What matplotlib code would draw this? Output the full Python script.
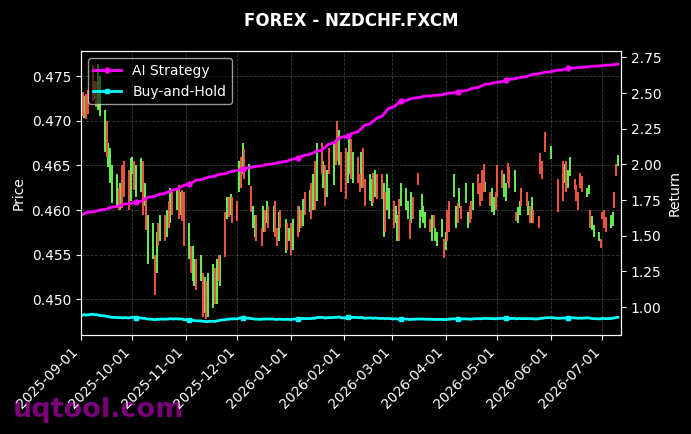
import numpy as np
import pandas as pd
import matplotlib
matplotlib.use("Agg")
import matplotlib.pyplot as plt
import matplotlib.dates as mdates

#%% data, one row per week, Mon..Fri
nan = np.nan
dates = pd.bdate_range("2025-09-01", "2026-07-10")

open_px = [
    0.4700, 0.4732, 0.4703, 0.4730, 0.4735,
    0.4762, 0.4725, 0.4745, 0.4712, 0.4705,
    0.4665, 0.4700, 0.4648, 0.4630, 0.4608,
    0.4605, 0.4625, 0.4600, 0.4650, 0.4655,
    0.4645, 0.4610, 0.4640, 0.4655, 0.4615,
    0.4620, 0.4655, 0.4605, 0.4615, 0.4540,
    0.4545, 0.4550, 0.4530, 0.4585, 0.4565,
    0.4595, 0.4570, 0.4610, 0.4585, 0.4620,
    0.4600, 0.4628, 0.4595, 0.4622, 0.4620,
    0.4545, 0.4560, 0.4520, 0.4515, 0.4545,
    0.4520, 0.4530, 0.4485, 0.4520, 0.4480,
    0.4490, 0.4535, 0.4495, 0.4550, 0.4515,
    0.4598, 0.4590, 0.4615, 0.4595, 0.4615,
    0.4610, 0.4620, 0.4660, 0.4640, 0.4668,
    0.4628, 0.4627, 0.4580, 0.4570, 0.4595,
    0.4580, 0.4575, 0.4600, 0.4585, 0.4605,
    0.4575, 0.4610, 0.4580, 0.4565, 0.4600,
    0.4552, 0.4585, 0.4565, 0.4585, 0.4555,
    0.4605, 0.4575, 0.4600, 0.4582, 0.4620,
    0.4598, 0.4630, 0.4600, 0.4655, 0.4610,
    0.4675, 0.4625, 0.4650, 0.4615, 0.4670,
    0.4628, 0.4680, 0.4700, 0.4650, 0.4665,
    0.4670, 0.4630, 0.4640, 0.4680, 0.4630,
    0.4660, 0.4640, 0.4625, 0.4670, 0.4635,
    0.4610, 0.4605, 0.4642, 0.4615, 0.4640,
    0.4640, 0.4570, 0.4620, 0.4600, 0.4590,
    0.4610, 0.4585, 0.4565, 0.4612, 0.4605,
    0.4600, 0.4590, 0.4590, 0.4585, 0.4615,
    0.4642, 0.4580, 0.4592, 0.4585, 0.4580,
    0.4590, 0.4565, 0.4595, 0.4565, 0.4560,
    0.4570, 0.4568, 0.4555, 0.4600, 0.4610,
    0.4615, 0.4580, 0.4608, 0.4602, 0.4605,
    0.4608, 0.4580, 0.4605, 0.4610, 0.4600,
    0.4640, 0.4630, 0.4645, 0.4652, 0.4620,
    0.4620, 0.4598, 0.4595, 0.4620, 0.4650,
    0.4645, 0.4615, 0.4610, 0.4653, 0.4648,
    0.4620, 0.4598, 0.4585, 0.4595, 0.4625,
    0.4620, 0.4595, 0.4605, 0.4585, 0.4600,
    0.4593, 0.4664, 0.4655, nan, 0.4687,
    0.4657, nan, nan, nan, 0.4635,
    0.4655, 0.4630, 0.4655, 0.4625, 0.4638,
    0.4635, 0.4628, 0.4620, 0.4642, 0.4638,
    0.4615, 0.4618, 0.4600, 0.4578, 0.4570,
    0.4565, 0.4568, 0.4598, 0.4600, 0.4592,
    0.4580, 0.4582, 0.4620, 0.4652, 0.4649,
]
close_px = [
    0.4733, 0.4705, 0.4728, 0.4702, 0.4708,
    0.4722, 0.4745, 0.4715, 0.4764, 0.4750,
    0.4712, 0.4660, 0.4675, 0.4670, 0.4650,
    0.4640, 0.4600, 0.4630, 0.4602, 0.4615,
    0.4600, 0.4658, 0.4660, 0.4622, 0.4650,
    0.4658, 0.4595, 0.4630, 0.4578, 0.4595,
    0.4585, 0.4505, 0.4575, 0.4560, 0.4595,
    0.4565, 0.4600, 0.4580, 0.4625, 0.4595,
    0.4625, 0.4590, 0.4620, 0.4588, 0.4560,
    0.4585, 0.4530, 0.4560, 0.4545, 0.4510,
    0.4550, 0.4480, 0.4525, 0.4478, 0.4530,
    0.4540, 0.4495, 0.4545, 0.4520, 0.4550,
    0.4548, 0.4615, 0.4592, 0.4618, 0.4585,
    0.4588, 0.4655, 0.4625, 0.4675, 0.4635,
    0.4652, 0.4598, 0.4605, 0.4595, 0.4565,
    0.4560, 0.4605, 0.4575, 0.4610, 0.4580,
    0.4605, 0.4570, 0.4560, 0.4598, 0.4580,
    0.4590, 0.4555, 0.4580, 0.4550, 0.4590,
    0.4570, 0.4605, 0.4580, 0.4612, 0.4595,
    0.4622, 0.4590, 0.4640, 0.4600, 0.4675,
    0.4640, 0.4655, 0.4605, 0.4645, 0.4640,
    0.4675, 0.4650, 0.4655, 0.4690, 0.4620,
    0.4612, 0.4665, 0.4682, 0.4635, 0.4665,
    0.4630, 0.4620, 0.4665, 0.4625, 0.4605,
    0.4640, 0.4635, 0.4608, 0.4645, 0.4612,
    0.4612, 0.4630, 0.4575, 0.4640, 0.4625,
    0.4580, 0.4605, 0.4595, 0.4565, 0.4630,
    0.4625, 0.4610, 0.4568, 0.4620, 0.4590,
    0.4628, 0.4600, 0.4618, 0.4605, 0.4598,
    0.4575, 0.4595, 0.4580, 0.4580, 0.4575,
    0.4590, 0.4546, 0.4575, 0.4565, 0.4575,
    0.4640, 0.4605, 0.4585, 0.4625, 0.4590,
    0.4630, 0.4598, 0.4585, 0.4590, 0.4630,
    0.4618, 0.4605, 0.4610, 0.4620, 0.4632,
    0.4605, 0.4625, 0.4615, 0.4600, 0.4615,
    0.4625, 0.4640, 0.4630, 0.4630, 0.4625,
    0.4645, 0.4588, 0.4603, 0.4610, 0.4605,
    0.4605, 0.4610, 0.4585, 0.4615, 0.4585,
    0.4580, 0.4640, 0.4635, nan, 0.4665,
    0.4672, nan, nan, nan, 0.4598,
    0.4610, 0.4652, 0.4620, 0.4645, 0.4660,
    0.4622, 0.4610, 0.4600, 0.4625, 0.4620,
    0.4625, 0.4628, 0.4580, 0.4593, 0.4583,
    0.4575, 0.4557, 0.4590, 0.4580, 0.4575,
    0.4595, 0.4598, 0.4602, 0.4638, 0.4662,
]

ai_strategy = [
    1.645, 1.649, 1.656, 1.660, 1.666,
    1.667, 1.670, 1.674, 1.676, 1.680,
    1.684, 1.688, 1.691, 1.697, 1.701,
    1.703, 1.709, 1.712, 1.718, 1.722,
    1.723, 1.727, 1.731, 1.733, 1.736,
    1.743, 1.747, 1.756, 1.762, 1.771,
    1.773, 1.779, 1.784, 1.787, 1.792,
    1.796, 1.804, 1.808, 1.813, 1.820,
    1.827, 1.832, 1.842, 1.847, 1.855,
    1.861, 1.870, 1.875, 1.884, 1.890,
    1.893, 1.899, 1.902, 1.906, 1.911,
    1.916, 1.918, 1.925, 1.928, 1.932,
    1.935, 1.941, 1.944, 1.950, 1.953,
    1.958, 1.960, 1.967, 1.970, 1.974,
    1.976, 1.980, 1.983, 1.985, 1.988,
    1.990, 1.994, 1.997, 1.999, 2.002,
    2.004, 2.008, 2.011, 2.013, 2.016,
    2.021, 2.023, 2.030, 2.033, 2.037,
    2.042, 2.049, 2.053, 2.060, 2.065,
    2.070, 2.077, 2.081, 2.088, 2.093,
    2.101, 2.113, 2.121, 2.133, 2.142,
    2.151, 2.163, 2.170, 2.182, 2.191,
    2.195, 2.203, 2.206, 2.214, 2.219,
    2.229, 2.242, 2.251, 2.265, 2.275,
    2.284, 2.296, 2.304, 2.316, 2.325,
    2.338, 2.354, 2.366, 2.382, 2.395,
    2.404, 2.416, 2.423, 2.435, 2.444,
    2.447, 2.453, 2.456, 2.462, 2.465,
    2.467, 2.472, 2.473, 2.477, 2.479,
    2.480, 2.482, 2.484, 2.485, 2.486,
    2.488, 2.493, 2.494, 2.498, 2.500,
    2.502, 2.507, 2.508, 2.512, 2.514,
    2.517, 2.523, 2.526, 2.532, 2.535,
    2.540, 2.547, 2.551, 2.558, 2.563,
    2.565, 2.570, 2.571, 2.575, 2.577,
    2.580, 2.586, 2.589, 2.595, 2.598,
    2.600, 2.605, 2.606, 2.610, 2.612,
    2.615, 2.621, 2.624, 2.630, 2.633,
    2.635, 2.640, 2.641, 2.645, 2.647,
    2.649, 2.654, 2.655, 2.659, 2.661,
    2.663, 2.668, 2.669, 2.673, 2.675,
    2.676, 2.678, 2.680, 2.681, 2.682,
    2.683, 2.685, 2.687, 2.688, 2.689,
    2.690, 2.692, 2.693, 2.695, 2.696,
    2.697, 2.699, 2.700, 2.702, 2.703,
]
buy_hold = [
    0.940, 0.944, 0.948, 0.944, 0.946,
    0.950, 0.946, 0.948, 0.944, 0.941,
    0.938, 0.935, 0.933, 0.931, 0.928,
    0.927, 0.925, 0.927, 0.924, 0.926,
    0.924, 0.927, 0.928, 0.925, 0.926,
    0.924, 0.921, 0.922, 0.918, 0.916,
    0.914, 0.911, 0.915, 0.913, 0.916,
    0.915, 0.917, 0.916, 0.919, 0.917,
    0.918, 0.916, 0.918, 0.915, 0.912,
    0.911, 0.909, 0.907, 0.906, 0.904,
    0.903, 0.899, 0.901, 0.897, 0.900,
    0.901, 0.899, 0.903, 0.905, 0.908,
    0.912, 0.916, 0.914, 0.918, 0.917,
    0.918, 0.922, 0.924, 0.926, 0.923,
    0.922, 0.919, 0.918, 0.916, 0.915,
    0.914, 0.917, 0.915, 0.918, 0.916,
    0.917, 0.914, 0.913, 0.916, 0.915,
    0.913, 0.915, 0.914, 0.912, 0.915,
    0.917, 0.919, 0.918, 0.921, 0.919,
    0.920, 0.919, 0.923, 0.921, 0.927,
    0.928, 0.926, 0.923, 0.925, 0.926,
    0.927, 0.929, 0.928, 0.931, 0.926,
    0.924, 0.928, 0.930, 0.927, 0.928,
    0.927, 0.925, 0.928, 0.924, 0.922,
    0.924, 0.923, 0.921, 0.924, 0.922,
    0.920, 0.922, 0.918, 0.921, 0.920,
    0.917, 0.919, 0.916, 0.914, 0.917,
    0.916, 0.915, 0.912, 0.915, 0.914,
    0.917, 0.915, 0.917, 0.916, 0.915,
    0.914, 0.915, 0.914, 0.913, 0.913,
    0.914, 0.911, 0.913, 0.914, 0.915,
    0.918, 0.916, 0.915, 0.917, 0.916,
    0.918, 0.916, 0.915, 0.915, 0.918,
    0.919, 0.918, 0.919, 0.920, 0.921,
    0.919, 0.920, 0.919, 0.918, 0.920,
    0.921, 0.922, 0.921, 0.920, 0.920,
    0.921, 0.918, 0.919, 0.920, 0.919,
    0.919, 0.920, 0.918, 0.920, 0.917,
    0.917, 0.922, 0.921, 0.923, 0.925,
    0.926, 0.925, 0.924, 0.923, 0.921,
    0.923, 0.925, 0.922, 0.924, 0.926,
    0.924, 0.923, 0.921, 0.923, 0.922,
    0.924, 0.925, 0.921, 0.920, 0.919,
    0.918, 0.917, 0.921, 0.920, 0.919,
    0.920, 0.922, 0.924, 0.927, 0.928,
]

# rows that carry a line marker
marker_rows = [24, 45, 68, 90, 111, 134, 157, 177, 203]

#%% plot
plt.style.use("dark_background")
fig = plt.figure(figsize=(6.91, 4.34), dpi=100)
ax1 = fig.add_subplot(111)
fig.subplots_adjust(left=0.117, right=0.899, top=0.882, bottom=0.228)

o = np.array(open_px)
c = np.array(close_px)
up = c >= o
ax1.vlines(dates[up], o[up], c[up], color="#66ee55", linewidth=1.4)
ax1.vlines(dates[~up], o[~up], c[~up], color="#ee5544", linewidth=1.4)
ax1.set_ylim(0.4460, 0.4778)
ax1.set_ylabel("Price")
ax1.grid(True, linestyle="--", linewidth=0.6, color="gray", alpha=0.45)

ax2 = ax1.twinx()
ax2.plot(dates, ai_strategy, color="magenta", linewidth=2, marker="o",
         markersize=3.5, markevery=marker_rows, label="AI Strategy")
ax2.plot(dates, buy_hold, color="cyan", linewidth=2, marker="s",
         markersize=3.5, markevery=marker_rows, label="Buy-and-Hold")
ax2.set_ylim(0.804, 2.794)
ax2.set_ylabel("Return")
leg = ax2.legend(loc="upper left", facecolor="black", edgecolor="white", framealpha=0.6)

ax1.set_xlim(pd.Timestamp("2025-09-01"), pd.Timestamp("2026-07-12"))
ax1.xaxis.set_major_locator(mdates.MonthLocator())
ax1.xaxis.set_major_formatter(mdates.DateFormatter("%Y-%m-%d"))
plt.setp(ax1.get_xticklabels(), rotation=45, ha="right")

ax1.set_title("FOREX - NZDCHF.FXCM", fontsize=12, fontweight="bold", pad=18)
fig.text(0.019, 0.039, "uqtool.com", fontsize=19.5, fontweight="bold",
         color="#880088", alpha=0.9, zorder=-1)

fig.savefig("out.png", dpi=100)
